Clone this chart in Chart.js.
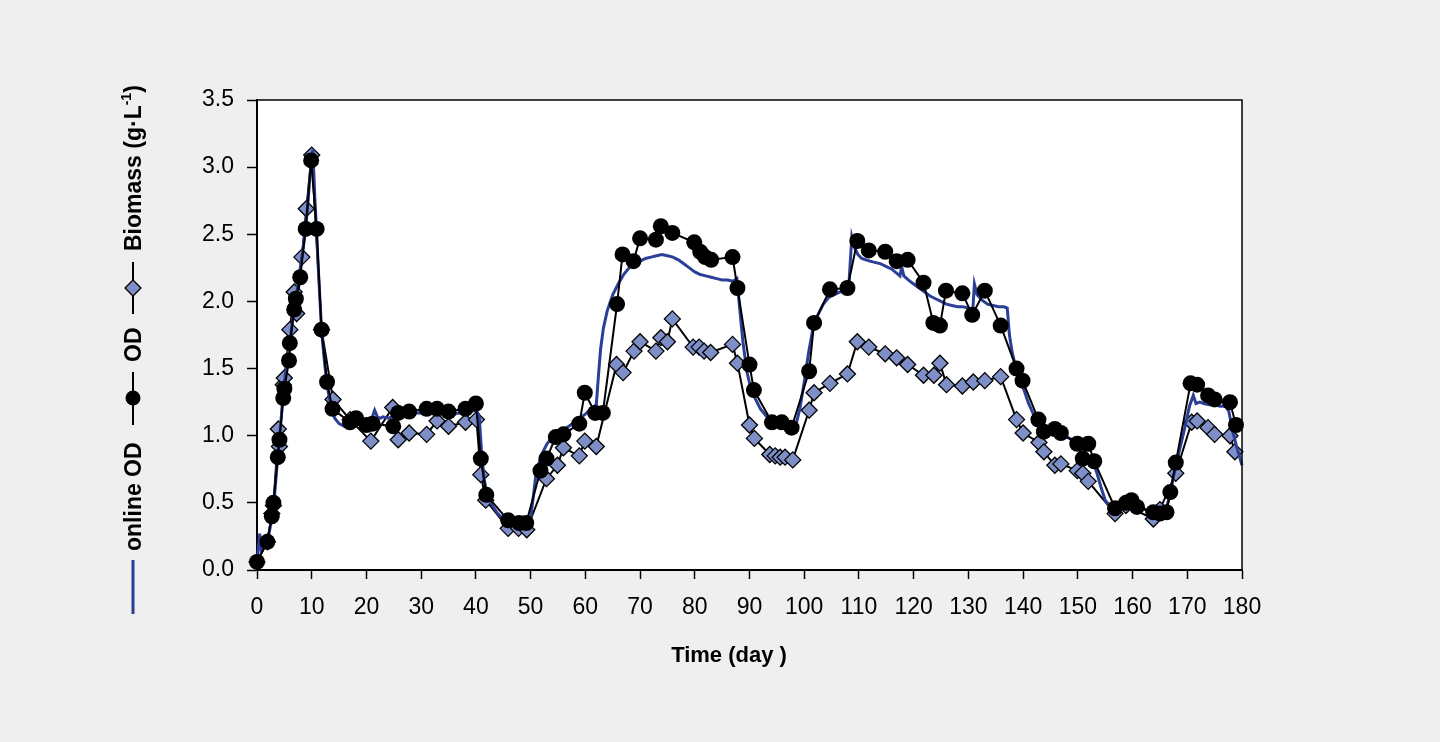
<!DOCTYPE html>
<html><head><meta charset="utf-8">
<script src="https://cdn.jsdelivr.net/npm/chart.js@4.4.1/dist/chart.umd.min.js"></script>
<style>
html,body{margin:0;padding:0;background:#efefef;overflow:hidden;}
#wrap{position:relative;width:1440px;height:742px;}
</style></head><body>
<div id="wrap"><canvas id="c"></canvas></div>
<script>
// ---- tick labels ----
const xTickValues = [0,10,20,30,40,50,60,70,80,90,100,110,120,130,140,150,160,170,180];
const yTickValues = [0,0.5,1,1.5,2,2.5,3,3.5];
const yTickLabels = ['0.0','0.5','1.0','1.5','2.0','2.5','3.0','3.5'];
const xTitle = 'Time (day )';

// ---- OD (black circles) ----
const odDays = [0,1.9,2.7,3.0,3.8,4.1,4.8,5.0,5.85,6.0,
  6.8,7.1,7.9,8.9,9.9,10.9,11.8,12.8,13.8,17.0,
  18.1,20.0,21.1,24.9,25.8,27.8,31.0,32.9,35.0,38.1,
  40.0,40.9,41.9,45.9,47.9,49.2,51.8,52.9,54.6,56.0,
  58.9,59.9,61.8,63.2,65.8,66.8,68.8,70.0,72.9,73.8,
  75.9,79.9,81.0,81.9,83.0,86.9,87.8,90.0,90.8,94.1,
  95.9,97.7,100.9,101.8,104.7,107.9,109.7,111.8,114.8,116.9,
  118.9,121.8,123.6,124.8,125.9,128.9,130.7,133.0,135.9,138.8,
  139.9,142.8,143.8,145.8,146.9,149.9,150.9,151.9,153.0,156.8,
  158.8,159.8,160.8,163.8,165.0,166.2,166.9,167.9,170.6,171.8,
  173.8,175.0,177.8,178.9];
const odValues = [0.06,0.21,0.40,0.50,0.84,0.97,1.28,1.35,1.56,1.69,
  1.94,2.02,2.18,2.54,3.05,2.54,1.79,1.40,1.20,1.10,
  1.13,1.08,1.09,1.07,1.17,1.18,1.20,1.20,1.18,1.20,
  1.24,0.83,0.56,0.37,0.35,0.35,0.74,0.83,0.99,1.01,
  1.09,1.32,1.17,1.17,1.98,2.35,2.30,2.47,2.46,2.56,
  2.51,2.44,2.37,2.33,2.31,2.33,2.10,1.53,1.34,1.10,
  1.10,1.06,1.48,1.84,2.09,2.10,2.45,2.38,2.37,2.30,
  2.31,2.14,1.84,1.82,2.08,2.06,1.90,2.08,1.82,1.50,
  1.41,1.12,1.03,1.05,1.02,0.94,0.83,0.94,0.81,0.46,
  0.50,0.52,0.47,0.43,0.42,0.43,0.58,0.80,1.39,1.38,
  1.30,1.27,1.25,1.08];

// ---- Biomass (blue-grey diamonds) ----
const bioDays = [0,1.9,2.7,3.0,3.9,4.1,4.8,5.0,6.0,6.8,
  7.25,8.2,9.0,10.0,11.8,13.9,17.0,20.8,24.8,25.8,
  27.8,31.0,32.9,35.0,38.1,40.1,40.9,41.8,45.9,47.8,
  49.3,52.9,54.9,56.0,58.9,59.9,62.0,65.7,66.9,68.9,
  70.0,72.9,73.8,75.0,75.9,79.7,80.8,81.7,82.9,86.9,
  87.8,90.0,90.9,93.7,94.7,95.6,96.5,97.9,100.9,101.8,
  104.7,107.9,109.7,111.8,114.8,116.9,118.9,121.8,123.7,124.8,
  126.0,128.9,130.9,133.0,135.9,138.8,140.0,142.9,143.8,145.8,
  146.9,149.9,150.9,151.9,156.8,158.8,163.8,165.0,167.9,170.8,
  171.8,173.8,175.0,177.8,178.7];
const bioValues = [0.06,0.21,0.42,0.48,1.05,0.92,1.38,1.43,1.79,2.07,
  1.91,2.33,2.69,3.09,1.79,1.27,1.12,0.96,1.21,0.97,
  1.02,1.01,1.11,1.07,1.10,1.12,0.71,0.52,0.31,0.31,
  0.30,0.68,0.78,0.91,0.85,0.96,0.92,1.53,1.47,1.63,
  1.70,1.63,1.73,1.70,1.87,1.66,1.66,1.63,1.62,1.68,
  1.54,1.08,0.98,0.86,0.85,0.84,0.84,0.82,1.19,1.32,
  1.39,1.46,1.70,1.66,1.61,1.58,1.53,1.45,1.45,1.54,
  1.38,1.37,1.40,1.41,1.44,1.12,1.02,0.95,0.88,0.78,
  0.79,0.74,0.72,0.66,0.42,0.48,0.38,0.45,0.72,1.10,
  1.11,1.06,1.01,1.00,0.88];

// ---- online OD (blue line) ----
const onlineDays = [0,0.5,0.8,1.3,2,2.6,3.2,3.8,4.4,5,
  5.6,6.2,6.8,7.4,8,8.6,9.2,9.7,10.2,10.6,
  11.2,11.8,12.4,13,13.6,14.2,15,16,17,18,
  18.6,19.2,20,21,21.5,22,22.5,23,24,25,
  26,27,28,29,30,31,32,33,34,35,
  36,37,38,39,40,40.6,41,41.5,42,43,
  44,45,46,47,48,48.5,49,49.6,50,50.5,
  51,52,53,54,55,56,57,58,59,60,
  61,62,62.4,62.8,63.3,64,65,66,67,68,
  69,70,71,72,73,74,75,76,77,78,
  79,80,81,82,83,84,85,86,87,87.7,
  88.2,88.8,89.5,90.2,91,92,93,94,95,96,
  97,98,98.6,99.2,100,100.8,101.6,102.5,103.5,104.5,
  105.5,106.5,107.5,108.2,108.7,109.2,109.8,110.5,112,114,
  116,117.5,117.8,118.2,119,120,121,122,123,124,
  125,126,127,128,129,130,130.8,131.1,131.6,132.5,
  133.5,134.5,135.5,136.5,137.1,137.5,138,138.6,139.2,140,
  141,142,143,144,145,146,147,148,149,150,
  151,152,152.8,153.5,154.2,155,156,157,158,159,
  160,161,162,163,164,165,166,166.8,167.5,168.5,
  169.5,170.4,171.1,171.6,172.3,173,174,175,176,177,
  177.6,178.2,179,180];
const onlineValues = [0.05,0.27,0.15,0.20,0.23,0.36,0.55,0.85,1.12,1.40,
  1.58,1.76,1.95,2.10,2.28,2.45,2.68,2.95,3.13,2.75,
  2.25,1.78,1.52,1.33,1.20,1.13,1.09,1.07,1.08,1.10,
  1.12,1.10,1.11,1.13,1.19,1.14,1.13,1.14,1.13,1.15,
  1.14,1.16,1.16,1.17,1.17,1.18,1.17,1.17,1.18,1.17,
  1.16,1.17,1.17,1.18,1.19,1.15,0.90,0.68,0.57,0.48,
  0.42,0.38,0.35,0.33,0.34,0.38,0.33,0.32,0.38,0.55,
  0.72,0.86,0.94,0.99,1.03,1.05,1.07,1.10,1.13,1.16,
  1.20,1.23,1.45,1.65,1.80,1.93,2.05,2.13,2.20,2.25,
  2.28,2.30,2.32,2.33,2.34,2.35,2.34,2.33,2.31,2.28,
  2.25,2.22,2.20,2.19,2.18,2.17,2.16,2.16,2.15,2.17,
  1.95,1.70,1.48,1.36,1.28,1.20,1.15,1.12,1.10,1.09,
  1.08,1.07,1.10,1.20,1.40,1.62,1.80,1.90,1.98,2.03,
  2.05,2.07,2.09,2.15,2.48,2.40,2.35,2.32,2.30,2.28,
  2.24,2.19,2.26,2.19,2.16,2.13,2.10,2.07,2.04,2.02,
  2.00,1.98,1.97,1.96,1.96,1.95,1.93,2.13,2.05,2.01,
  1.98,1.97,1.96,1.96,1.95,1.75,1.62,1.52,1.45,1.36,
  1.24,1.15,1.10,1.07,1.05,1.03,1.01,0.99,0.97,0.93,
  0.89,0.84,0.80,0.72,0.62,0.52,0.47,0.47,0.50,0.52,
  0.53,0.50,0.46,0.43,0.42,0.42,0.44,0.55,0.70,0.88,
  1.05,1.22,1.30,1.24,1.25,1.24,1.23,1.23,1.22,1.22,
  1.18,1.05,0.92,0.78];

const legendLabels = ['online OD', 'OD', 'Biomass (g\u00B7L', '-1', ')'];

const FONT = '"Liberation Sans", Arial, Helvetica, sans-serif';
const BLUE = '#2c3f98';
const DIAMOND = '#7d8fc6';

const toXY = (xs, ys) => xs.map((x, i) => ({x: x, y: ys[i]}));

const plotPlugin = {
  id: 'plotDecor',
  beforeDraw(chart) {
    const {ctx, chartArea: a} = chart;
    ctx.save();
    ctx.fillStyle = '#ffffff';
    ctx.fillRect(a.left, a.top, a.right - a.left, a.bottom - a.top);
    ctx.restore();
  },
  afterDraw(chart) {
    const {ctx, chartArea: a} = chart;
    ctx.save();
    ctx.strokeStyle = '#000';
    ctx.lineWidth = 1.5;
    ctx.beginPath();
    ctx.moveTo(a.left, a.top); ctx.lineTo(a.right, a.top); ctx.lineTo(a.right, a.bottom);
    ctx.stroke();
    ctx.restore();

    // x axis title
    ctx.save();
    ctx.fillStyle = '#000';
    ctx.font = 'bold 22px ' + FONT;
    ctx.textAlign = 'center';
    ctx.textBaseline = 'middle';
    ctx.fillText(xTitle, 729, 656);
    ctx.restore();

    // rotated legend
    const lx = 133, tx = 135;
    ctx.save();
    ctx.strokeStyle = BLUE; ctx.lineWidth = 3;
    ctx.beginPath(); ctx.moveTo(lx, 614); ctx.lineTo(lx, 560); ctx.stroke();
    ctx.strokeStyle = '#000'; ctx.lineWidth = 2;
    ctx.beginPath(); ctx.moveTo(lx, 425); ctx.lineTo(lx, 372); ctx.stroke();
    ctx.fillStyle = '#000';
    ctx.beginPath(); ctx.arc(lx, 398, 7.5, 0, Math.PI * 2); ctx.fill();
    ctx.beginPath(); ctx.moveTo(lx, 314); ctx.lineTo(lx, 262); ctx.stroke();
    ctx.beginPath();
    ctx.moveTo(lx, 288 - 8); ctx.lineTo(lx + 8, 288); ctx.lineTo(lx, 288 + 8); ctx.lineTo(lx - 8, 288); ctx.closePath();
    ctx.fillStyle = DIAMOND; ctx.fill(); ctx.lineWidth = 1.3; ctx.strokeStyle = '#000'; ctx.stroke();
    ctx.restore();

    const rtext = (parts) => {
      ctx.save();
      ctx.fillStyle = '#000';
      ctx.textBaseline = 'middle';
      ctx.textAlign = 'left';
      ctx.translate(tx, parts.y);
      ctx.rotate(-Math.PI / 2);
      let off = 0;
      parts.items.forEach(p => {
        ctx.font = 'bold ' + p.size + 'px ' + FONT;
        ctx.fillText(p.t, off, p.dy || 0);
        off += ctx.measureText(p.t).width;
      });
      ctx.restore();
    };
    rtext({y: 551, items: [{t: legendLabels[0], size: 23}]});
    rtext({y: 362, items: [{t: legendLabels[1], size: 23}]});
    rtext({y: 251, items: [{t: legendLabels[2], size: 23}, {t: legendLabels[3], size: 14, dy: -8}, {t: legendLabels[4], size: 23}]});
  }
};

new Chart(document.getElementById('c'), {
  type: 'line',
  data: {
    datasets: [
      {label: 'OD', data: toXY(odDays, odValues), borderColor: '#000', borderWidth: 2,
       pointStyle: 'circle', pointRadius: 8, pointBackgroundColor: '#000', pointBorderColor: '#000',
       pointBorderWidth: 0, order: 1, clip: false},
      {label: 'online OD', data: toXY(onlineDays, onlineValues), borderColor: BLUE, borderWidth: 3,
       pointRadius: 0, order: 2, clip: false},
      {label: 'Biomass', data: toXY(bioDays, bioValues), borderColor: '#000', borderWidth: 2,
       pointStyle: 'rectRot', pointRadius: 8, pointBackgroundColor: DIAMOND, pointBorderColor: '#000',
       pointBorderWidth: 1.3, order: 3, clip: false}
    ]
  },
  options: {
    responsive: true, maintainAspectRatio: false, animation: false,
    layout: {padding: {left: 0, top: 100, right: 198, bottom: 0}},
    plugins: {legend: {display: false}, tooltip: {enabled: false}},
    elements: {line: {tension: 0}},
    scales: {
      x: {
        type: 'linear', min: 0, max: 180,
        afterBuildTicks: s => { s.ticks = xTickValues.map(v => ({value: v})); },
        afterFit: s => { s.height = 172; },
        grid: {drawOnChartArea: false, drawTicks: true, tickLength: 9, color: '#000', tickWidth: 1.5},
        border: {display: true, color: '#000', width: 2},
        ticks: {color: '#000', font: {family: FONT, size: 23}, padding: 15, maxRotation: 0, autoSkip: false}
      },
      y: {
        type: 'linear', min: 0, max: 3.5,
        afterBuildTicks: s => { s.ticks = yTickValues.map(v => ({value: v})); },
        afterFit: s => { s.width = 257; },
        grid: {drawOnChartArea: false, drawTicks: true, tickLength: 10, color: '#000', tickWidth: 1.5},
        border: {display: true, color: '#000', width: 2},
        ticks: {color: '#000', font: {family: FONT, size: 23}, padding: 13, autoSkip: false,
          callback: (v) => { const i = yTickValues.indexOf(v); return i >= 0 ? yTickLabels[i] : ''; }}
      }
    }
  },
  plugins: [plotPlugin]
});
</script>
</body></html>
